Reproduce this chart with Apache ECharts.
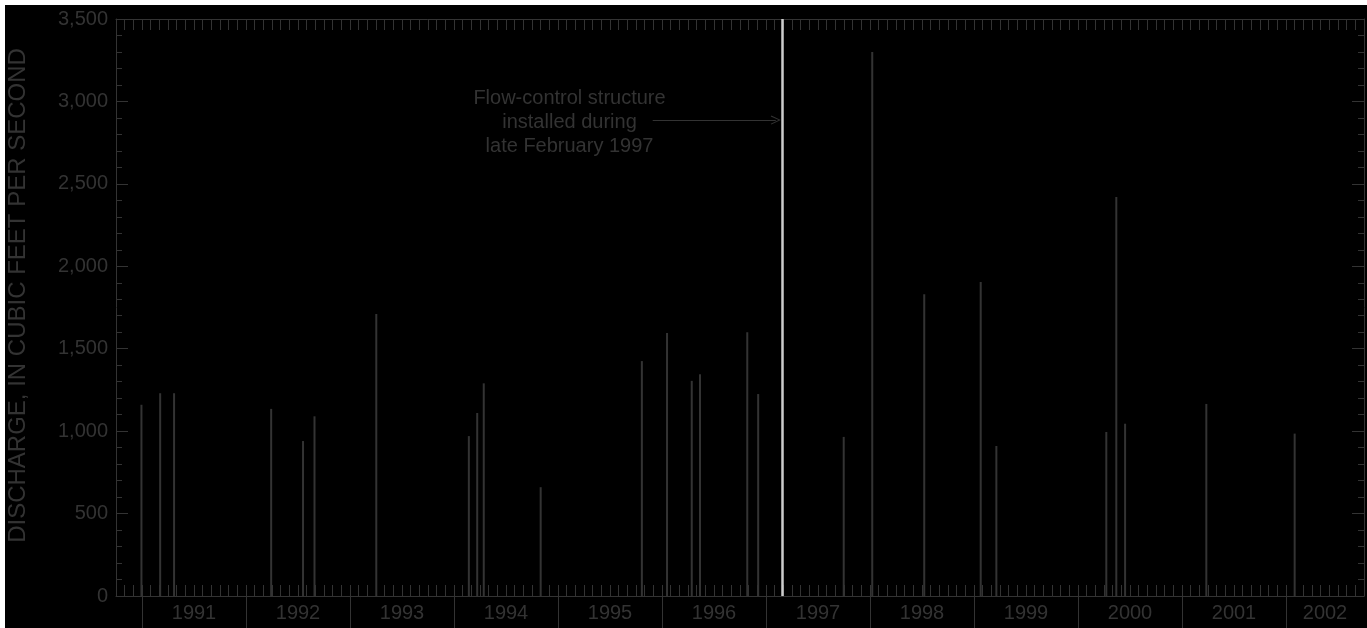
<!DOCTYPE html>
<html>
<head>
<meta charset="utf-8">
<script src="https://cdn.jsdelivr.net/npm/echarts@6/dist/echarts.min.js"></script>
<style>
  html, body { margin: 0; padding: 0; background: #ffffff; }
  #chart { position: absolute; left: 5px; top: 5px; width: 1362px; height: 623px; background: #000000; }
</style>
</head>
<body>
<div id="chart"></div>
<script>
// ---- data ----
const eventDates = ['1990-12-30','1991-03-04','1991-04-22','1992-03-29','1992-07-19','1992-08-29',
  '1993-04-02','1994-02-21','1994-03-22','1994-04-14','1994-11-01','1995-10-22','1996-01-19',
  '1996-04-14','1996-05-13','1996-10-27','1996-12-04','1997-09-30','1998-01-09','1998-07-09',
  '1999-01-25','1999-03-19','2000-04-09','2000-05-14','2000-06-14','2001-03-26','2002-02-01'];
const peakDischarge = [1160,1230,1230,1135,940,1090,1710,970,1110,1290,660,1425,1595,1305,1345,
  1600,1225,965,3300,1830,1905,910,995,2420,1045,1165,985];
const yearLabels = ['1991','1992','1993','1994','1995','1996','1997','1998','1999','2000','2001','2002'];
const yTicks = [0, 500, 1000, 1500, 2000, 2500, 3000, 3500];
const axisStart = '1990-10-01';
const axisEnd = '2002-10-01';
const structureDate = '1997-02-27';
const annotationText = 'Flow-control structure\ninstalled during\nlate February 1997';
const yAxisTitle = 'DISCHARGE, IN CUBIC FEET PER SECOND';

// months since Jan 1990
function toMonths(s) {
  const [y, m, d] = s.split('-').map(Number);
  const dim = new Date(y, m, 0).getDate();
  return (y - 1990) * 12 + (m - 1) + (d - 1) / dim;
}
const xMin = toMonths(axisStart), xMax = toMonths(axisEnd);
const yearStarts = yearLabels.map(y => (Number(y) - 1990) * 12);
const yearMids = yearLabels.map(y => {
  const s = Math.max((Number(y) - 1990) * 12, xMin), e = Math.min((Number(y) - 1989) * 12, xMax);
  return (s + e) / 2;
});
const seriesData = eventDates.map((d, i) => [toMonths(d), peakDischarge[i]]);
const structX = toMonths(structureDate);

const C = '#333333';
const FONT = '"Liberation Sans", Arial, Helvetica, sans-serif';

const chart = echarts.init(document.getElementById('chart'), null, { renderer: 'canvas' });
chart.setOption({
  backgroundColor: '#000000',
  animation: false,
  grid: { left: 111, right: 3, top: 14, bottom: 32, containLabel: false, outerBoundsMode: 'none' },
  xAxis: [
    { type: 'value', position: 'bottom', min: xMin, max: xMax, interval: 1,
      axisLine: { show: true, lineStyle: { color: C, width: 1 } },
      axisTick: { show: true, inside: true, length: 11, lineStyle: { color: C } },
      axisLabel: { show: false }, splitLine: { show: false } },
    { type: 'value', position: 'bottom', min: xMin, max: xMax, interval: 1,
      axisLine: { show: false },
      axisTick: { show: true, inside: false, length: 34, customValues: yearStarts, lineStyle: { color: C } },
      axisLabel: { show: true, customValues: yearMids, margin: 7, color: C, fontSize: 20, fontFamily: FONT,
        formatter: v => String(1990 + Math.floor(v / 12)) },
      splitLine: { show: false } },
    { type: 'value', position: 'top', min: xMin, max: xMax, interval: 1,
      axisLine: { show: true, lineStyle: { color: C, width: 1 } },
      axisTick: { show: true, inside: true, length: 11, lineStyle: { color: C } },
      axisLabel: { show: false }, splitLine: { show: false } }
  ],
  yAxis: [
    { type: 'value', position: 'left', min: yTicks[0], max: yTicks[yTicks.length - 1], interval: 500,
      name: yAxisTitle, nameLocation: 'middle', nameGap: 86, nameRotate: 90,
      nameTextStyle: { color: C, fontSize: 24, fontFamily: FONT, padding: [0, 0, 0, 24] },
      axisLine: { show: true, lineStyle: { color: C } },
      axisTick: { show: true, inside: true, length: 12, lineStyle: { color: C } },
      minorTick: { show: true, splitNumber: 5, length: 6, lineStyle: { color: C } },
      axisLabel: { show: true, margin: 8, color: C, fontSize: 20, fontFamily: FONT,
        formatter: v => v.toLocaleString('en-US') },
      splitLine: { show: false } },
    { type: 'value', position: 'right', min: yTicks[0], max: yTicks[yTicks.length - 1], interval: 500,
      axisLine: { show: true, lineStyle: { color: C } },
      axisTick: { show: true, inside: true, length: 12, lineStyle: { color: C } },
      minorTick: { show: true, splitNumber: 5, length: 6, lineStyle: { color: C } },
      axisLabel: { show: false }, splitLine: { show: false } }
  ],
  series: [{
    type: 'bar',
    xAxisIndex: 0, yAxisIndex: 0,
    data: seriesData,
    barWidth: 2,
    itemStyle: { color: '#333333' },
    silent: true,
    markLine: {
      silent: true,
      symbol: ['none', 'none'],
      label: { show: false },
      data: [
        { xAxis: structX, lineStyle: { color: '#cccccc', width: 2.5, type: 'solid' } },
        [
          { coord: [structX - 15, 2887], symbol: 'none', lineStyle: { color: C, width: 1, type: 'solid' } },
          { coord: [structX - 0.8, 2887], symbol: 'path://M5,0 L10,10 L9,10.6 L5,2.2 L1,10.6 L0,10 Z', symbolSize: [9, 10] }
        ]
      ]
    },
    markPoint: {
      silent: true,
      symbol: 'circle', symbolSize: 1,
      itemStyle: { color: 'rgba(0,0,0,0)' },
      label: { show: true, position: 'inside', color: C, fontSize: 20, fontFamily: FONT,
        lineHeight: 24, align: 'center', verticalAlign: 'middle', formatter: annotationText },
      data: [{ coord: [structX - 24.6, 2875] }]
    }
  }]
});
</script>
</body>
</html>
